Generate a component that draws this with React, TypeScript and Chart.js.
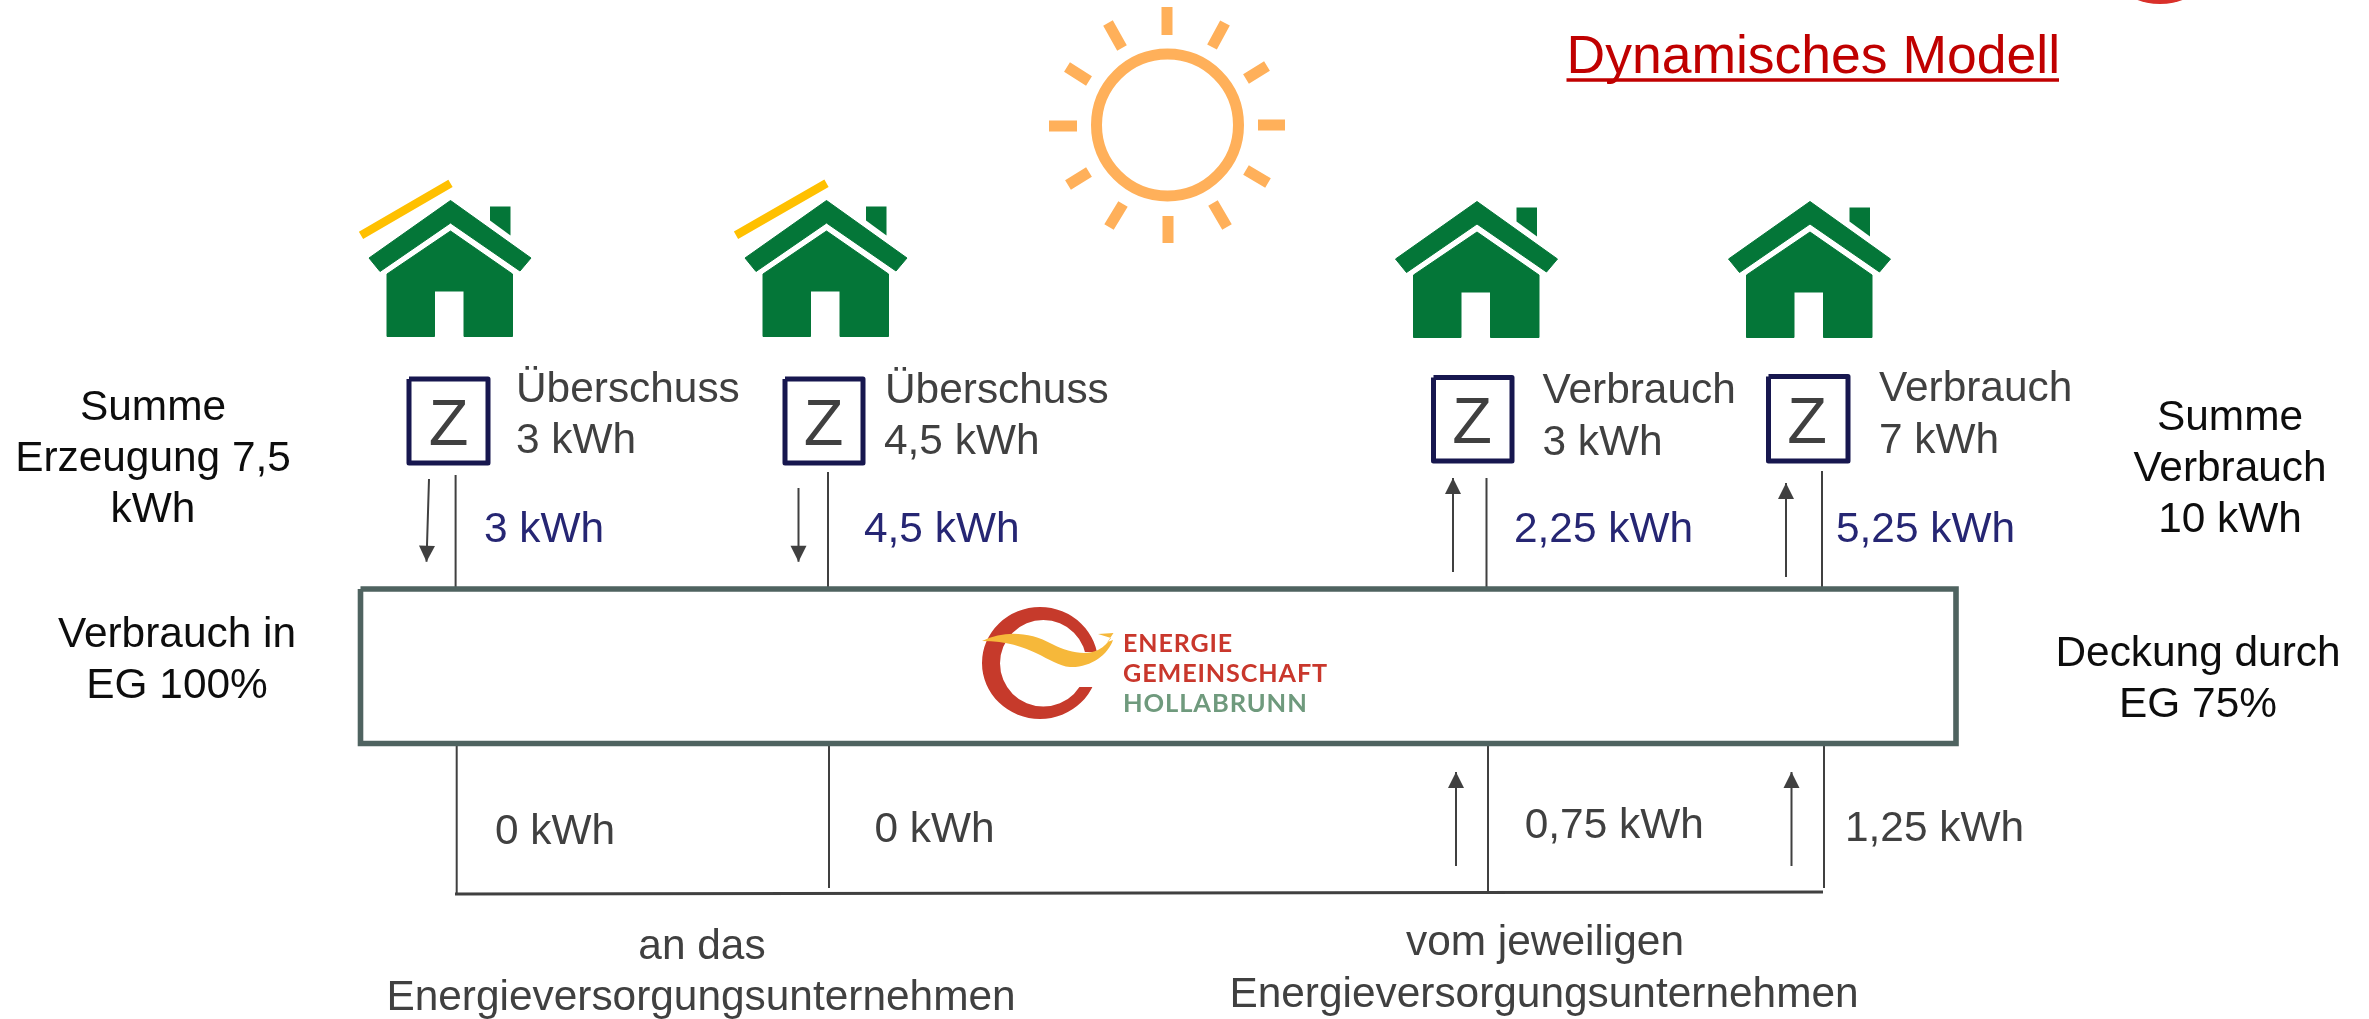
import React, { useEffect, useRef } from "react";
import { Chart, registerables } from "chart.js";

Chart.register(...registerables);

type P = [number, number];

// ---- values and labels
const title = "Dynamisches Modell";
const surplusHeads = ["Überschuss", "Überschuss"];
const surplusValues = ["3 kWh", "4,5 kWh"];
const demandHeads = ["Verbrauch", "Verbrauch"];
const demandValues = ["3 kWh", "7 kWh"];
const flowToCommunity = ["3 kWh", "4,5 kWh", "2,25 kWh", "5,25 kWh"];
const flowToSupplier = ["0 kWh", "0 kWh", "0,75 kWh", "1,25 kWh"];
const sumGeneration = ["Summe", "Erzeugung 7,5", "kWh"];
const usedInCommunity = ["Verbrauch in", "EG 100%"];
const sumDemand = ["Summe", "Verbrauch", "10 kWh"];
const covered = ["Deckung durch", "EG 75%"];
const toSupplier = ["an das", "Energieversorgungsunternehmen"];
const fromSupplier = ["vom jeweiligen", "Energieversorgungsunternehmen"];
const logoLines = ["ENERGIE", "GEMEINSCHAFT", "HOLLABRUNN"];

// ---- diagram geometry, in the axis units of the chart
const houseTops: P[] = [[450.5, 200.5], [826.5, 200.5], [1477, 201.5], [1810, 201.5]];
const houseRoof: P[] = [[0, 0], [80.5, 57.5], [69.5, 70.5], [0, 22.5], [-70.5, 71], [-81.5, 57.5]];
const houseChimney: P[] = [[39.5, 6], [60, 6], [60, 35], [39.5, 20]];
const houseBody: P[] = [[0, 30.5], [62, 73.5], [62, 136], [13.5, 136], [13.5, 90.5], [-16, 90.5], [-16, 136], [-63.5, 136], [-63.5, 73.5]];
const panels: P[][] = [[[361, 235.3], [450.5, 183.3]], [[736, 235.3], [826.5, 183.3]]];
const meters: [number, number, number, number][] = [
  [409, 379, 488, 463], [785, 379, 863, 463], [1433.5, 377.5, 1512, 461], [1768.5, 376.5, 1848, 461],
];
const meterLetters: P[] = [[448.5, 445], [823.5, 445], [1472, 443], [1807, 443]];
const wiresUpper: P[][] = [
  [[455.6, 475], [455.6, 587]], [[828, 472], [828, 587]], [[1486.5, 478], [1486.5, 587]], [[1822, 471], [1822, 587]],
];
const wiresLower: P[][] = [
  [[456.7, 745], [456.7, 893]], [[829, 745], [829, 888]], [[1488, 745], [1488, 894]], [[1824, 745], [1824, 888]],
];
const busLine: P[] = [[455, 894], [1823, 892]];
const arrows: P[][] = [
  [[429, 479], [426.5, 561.7]], [[798.5, 488], [798.5, 561.7]], [[1453, 572], [1453, 478]], [[1786, 577], [1786, 483]],
  [[1456, 866], [1456, 772]], [[1791.5, 866], [1791.5, 772]],
];
const communityBox: P[] = [[360.5, 589], [1956, 589], [1956, 743.5], [360.5, 743.5], [360.5, 589]];
const sunCentre: P[] = [[1167.5, 125]];
const sunRays: P[][] = [
  [[1167, 7], [1167, 35]], [[1225, 23], [1212, 47]], [[1267, 66], [1246, 79]], [[1258, 125], [1285, 125]],
  [[1268, 183], [1246, 170]], [[1227, 227], [1213, 203]], [[1168, 216], [1168, 243]], [[1109, 227], [1123, 204]],
  [[1068, 185], [1089, 172]], [[1049, 126], [1077, 126]], [[1067, 67], [1089, 81]], [[1108, 23], [1122, 48]],
];
const titleRule: P[] = [[1566.5, 80], [2059, 80]];

const dark = "#404040";
const navy = "#262673";
const ink = "#0d0d0d";
const green = "#047638";
const sans = '"Liberation Sans", Arial, sans-serif';
const bodySize = 42.4;

const segs = (list: P[][]) =>
  list.flatMap((s, i) => [...s.map(([x, y]) => ({ x, y })), ...(i < list.length - 1 ? [{ x: null, y: null }] : [])]);

const rule = (data: any[], color: string, width: number, join = "miter") => ({
  type: "scatter",
  data,
  showLine: true,
  fill: false,
  tension: 0,
  borderColor: color,
  borderWidth: width,
  borderCapStyle: "butt",
  borderJoinStyle: join,
  pointRadius: 0,
  pointHoverRadius: 0,
  spanGaps: false,
});

const diagram = {
  id: "diagram",
  afterDatasetsDraw(chart: any) {
    const { ctx, scales } = chart;
    const X = (v: number) => scales.x.getPixelForValue(v);
    const Y = (v: number) => scales.y.getPixelForValue(v);
    const poly = (pts: P[], color: string, ox = 0, oy = 0, soft = 0) => {
      ctx.beginPath();
      pts.forEach(([x, y], i) => (i ? ctx.lineTo(X(x + ox), Y(y + oy)) : ctx.moveTo(X(x + ox), Y(y + oy))));
      ctx.closePath();
      ctx.fillStyle = color;
      ctx.fill();
      if (soft) {
        ctx.strokeStyle = color;
        ctx.lineWidth = soft;
        ctx.lineJoin = "round";
        ctx.stroke();
      }
    };
    const text = (s: string, x: number, y: number, size: number, color: string, align = "left") => {
      ctx.font = `${size}px ${sans}`;
      ctx.fillStyle = color;
      ctx.textAlign = align;
      ctx.textBaseline = "alphabetic";
      ctx.fillText(s, X(x), Y(y));
    };
    const logoText = (s: string, y: number, color: string, width: number) => {
      ctx.font = "bold 25.5px Lato, sans-serif";
      ctx.fillStyle = color;
      ctx.textAlign = "left";
      ctx.textBaseline = "alphabetic";
      ctx.letterSpacing = "0.9px";
      ctx.fillText(s, X(1123), Y(y), width);
      ctx.letterSpacing = "0px";
    };

    ctx.save();
    // houses
    houseTops.forEach(([ox, oy]) => {
      poly(houseChimney, green, ox, oy);
      poly(houseRoof, green, ox, oy, 1);
      poly(houseBody, green, ox, oy, 1);
    });

    // arrow heads, from the tips of the arrows
    arrows.forEach(([from, tip]) => {
      const dx = tip[0] - from[0];
      const dy = tip[1] - from[1];
      const len = Math.hypot(dx, dy);
      const ux = dx / len;
      const uy = dy / len;
      const bx = tip[0] - ux * 16;
      const by = tip[1] - uy * 16;
      poly([tip, [bx - uy * 8, by + ux * 8], [bx + uy * 8, by - ux * 8]], dark);
    });

    // red mark cut by the top edge
    ctx.beginPath();
    ctx.ellipse(X(2160), Y(-12), 34, 16, 0, 0, Math.PI * 2);
    ctx.fillStyle = "#d9302a";
    ctx.fill();

    // logo ring
    ctx.save();
    ctx.beginPath();
    ctx.rect(X(970), Y(600), 200, 130);
    ctx.rect(X(1077), Y(652), 60, 35);
    ctx.clip("evenodd");
    ctx.beginPath();
    ctx.ellipse(X(1040), Y(663), 58, 56, 0, 0, Math.PI * 2);
    ctx.moveTo(X(1043.3) + 43.3, Y(663.3));
    ctx.arc(X(1043.3), Y(663.3), 43.3, 0, Math.PI * 2);
    ctx.fillStyle = "#c63a2b";
    ctx.fill("evenodd");
    ctx.restore();

    // logo ribbon
    ctx.beginPath();
    ctx.moveTo(X(982), Y(641));
    ctx.bezierCurveTo(X(1005), Y(630), X(1030), Y(632), X(1052), Y(644));
    ctx.bezierCurveTo(X(1068), Y(652), X(1085), Y(656), X(1098), Y(650));
    ctx.bezierCurveTo(X(1104), Y(647), X(1108), Y(642), X(1111), Y(638));
    ctx.lineTo(X(1098), Y(634));
    ctx.lineTo(X(1113.5), Y(633));
    ctx.lineTo(X(1107.5), Y(642));
    ctx.lineTo(X(1113), Y(640));
    ctx.bezierCurveTo(X(1108), Y(655), X(1090), Y(668), X(1070), Y(667));
    ctx.bezierCurveTo(X(1048), Y(665), X(1032), Y(641), X(982), Y(641));
    ctx.closePath();
    ctx.fillStyle = "#f6b83a";
    ctx.fill();

    // logo lettering
    logoText(logoLines[0], 651.7, "#c9372c", 110);
    logoText(logoLines[1], 681.7, "#c9372c", 205);
    logoText(logoLines[2], 711.7, "#6f9a7d", 185);

    // title
    text(title, 1566.5, 72.7, 53.5, "#c00000");

    // meters
    meterLetters.forEach(([x, y]) => text("Z", x, y, 65, dark, "center"));

    // meter readings
    text(surplusHeads[0], 516, 402, bodySize, dark);
    text(surplusValues[0], 516, 453, bodySize, dark);
    text(surplusHeads[1], 885, 403, bodySize, dark);
    text(surplusValues[1], 884, 454, bodySize, dark);
    text(demandHeads[0], 1542.5, 403, bodySize, dark);
    text(demandValues[0], 1542.5, 455, bodySize, dark);
    text(demandHeads[1], 1879, 401, bodySize, dark);
    text(demandValues[1], 1879, 453, bodySize, dark);

    // flows
    text(flowToCommunity[0], 484, 542, bodySize, navy);
    text(flowToCommunity[1], 864, 542, bodySize, navy);
    text(flowToCommunity[2], 1514, 542, bodySize, navy);
    text(flowToCommunity[3], 1836, 542, bodySize, navy);
    text(flowToSupplier[0], 495, 844, bodySize, dark);
    text(flowToSupplier[1], 874.5, 842, bodySize, dark);
    text(flowToSupplier[2], 1524.7, 838, bodySize, dark);
    text(flowToSupplier[3], 1845, 841, bodySize, dark);

    // side notes
    sumGeneration.forEach((s, i) => text(s, 153, 420 + i * 51, bodySize, ink, "center"));
    usedInCommunity.forEach((s, i) => text(s, 177, 647 + i * 51, bodySize, ink, "center"));
    sumDemand.forEach((s, i) => text(s, 2230, 430 + i * 51, bodySize, ink, "center"));
    covered.forEach((s, i) => text(s, 2198, 666 + i * 51, bodySize, ink, "center"));

    // bottom captions
    text(toSupplier[0], 702, 959, bodySize, dark, "center");
    text(toSupplier[1], 701, 1010, bodySize, dark, "center");
    text(fromSupplier[0], 1545, 955, bodySize, dark, "center");
    text(fromSupplier[1], 1544, 1007, bodySize, dark, "center");
    ctx.restore();
  },
};

export default function App() {
  const ref = useRef<HTMLCanvasElement | null>(null);
  useEffect(() => {
    const meterOutlines: P[][] = meters.map(([a, b, c, d]) => [[a, b], [c, b], [c, d], [a, d], [a, b]]);
    const chart = new Chart(ref.current as HTMLCanvasElement, {
      type: "scatter",
      data: {
        datasets: [
          rule(segs([communityBox]), "#4f6360", 5.6),
          rule(segs(meterOutlines), "#17174f", 5, "round"),
          rule(segs(wiresUpper), dark, 2),
          rule(segs(wiresLower), dark, 2),
          rule(segs([busLine]), dark, 3),
          rule(segs(arrows), dark, 2),
          rule(segs(panels), "#ffc000", 8.5),
          rule(segs(sunRays), "#ffb05a", 11),
          rule(segs([titleRule]), "#c00000", 3.5),
          {
            type: "scatter",
            data: sunCentre.map(([x, y]) => ({ x, y })),
            pointStyle: "circle",
            pointRadius: 71,
            pointHoverRadius: 71,
            pointBorderWidth: 11,
            pointBorderColor: "#ffb05a",
            pointBackgroundColor: "rgba(255,255,255,0)",
            showLine: false,
            clip: false,
          },
        ] as any,
      },
      options: {
        animation: false,
        responsive: false,
        maintainAspectRatio: false,
        layout: { padding: 0, autoPadding: false },
        events: [],
        plugins: { legend: { display: false }, tooltip: { enabled: false }, title: { display: false } },
        scales: {
          x: { type: "linear", min: 0, max: 2369, display: false },
          y: { type: "linear", min: 0, max: 1019, reverse: true, display: false },
        },
      } as any,
      plugins: [diagram],
    });
    return () => chart.destroy();
  }, []);
  return (
    <div style={{ position: "fixed", left: 0, top: 0, width: 2369, height: 1019, background: "#fff", overflow: "hidden" }}>
      <canvas ref={ref} width={2369} height={1019} style={{ display: "block" }} />
    </div>
  );
}
